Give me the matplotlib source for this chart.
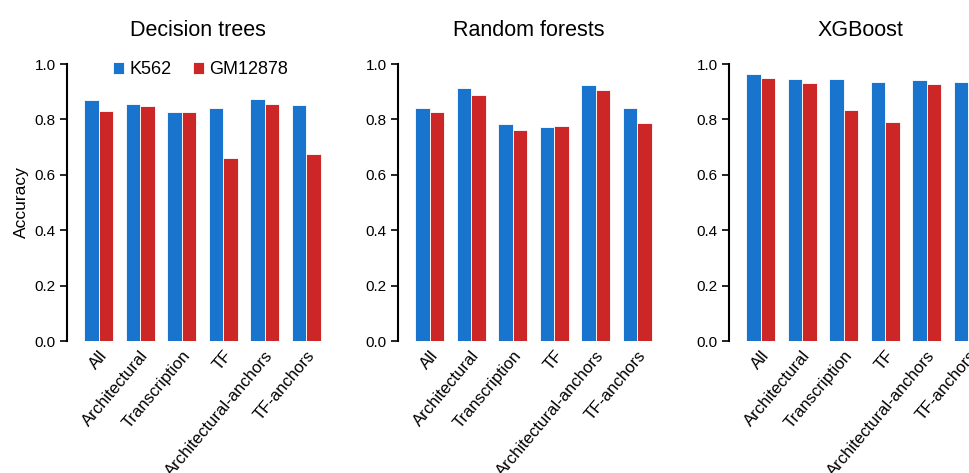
import numpy as np
import matplotlib.pyplot as plt
from matplotlib.transforms import ScaledTranslation

plt.rcParams['font.family'] = ['Liberation Sans', 'DejaVu Sans']

# categorias e valores
categorias = ['All', 'Architectural', 'Transcription', 'TF',
              'Architectural-anchors', 'TF-anchors']
titulos = ['Decision trees', 'Random forests', 'XGBoost']

dt_k562 = [0.871, 0.857, 0.828, 0.842, 0.875, 0.853]
dt_gm = [0.831, 0.849, 0.828, 0.661, 0.857, 0.676]
rf_k562 = [0.842, 0.914, 0.784, 0.773, 0.925, 0.842]
rf_gm = [0.828, 0.889, 0.763, 0.777, 0.907, 0.788]
xgb_k562 = [0.965, 0.947, 0.947, 0.936, 0.943, 0.936]
xgb_gm = [0.951, 0.933, 0.835, 0.792, 0.929, 0.792]

k562 = [dt_k562, rf_k562, xgb_k562]
gm = [dt_gm, rf_gm, xgb_gm]

azul = '#1874CD'
vermelho = '#CD2626'

W, H = 969, 473
fig = plt.figure(figsize=(W / 100, H / 100), dpi=100)

x = np.arange(len(categorias))
larg = 0.35
esq = [67, 398, 729]  # posição do eixo y de cada painel (px)
desloc = ScaledTranslation(-4 / 100, 0, fig.dpi_scale_trans)  # leve ajuste dos rótulos
for i in range(3):
    ax = fig.add_axes([esq[i] / W, (H - 341) / H, 262 / W, 277 / H])
    ax.bar(x - larg / 2, k562[i], larg, color=azul, edgecolor='white',
           linewidth=0.6, label='K562')
    ax.bar(x + larg / 2, gm[i], larg, color=vermelho, edgecolor='white',
           linewidth=0.6, label='GM12878')
    ax.set_xlim(-0.76, 5.55)
    ax.set_ylim(0, 1)
    ax.set_yticks([0, 0.2, 0.4, 0.6, 0.8, 1.0])
    ax.set_yticklabels(['0.0', '0.2', '0.4', '0.6', '0.8', '1.0'])
    ax.set_xticks(x)
    ax.set_xticklabels(categorias, rotation=50, ha='right', va='top',
                       rotation_mode='anchor', fontsize=12)
    for rot in ax.get_xticklabels():
        rot.set_transform(rot.get_transform() + desloc)
    ax.tick_params(axis='x', length=0, pad=5)
    ax.tick_params(axis='y', length=5, width=1.2, labelsize=11, pad=3)
    for s in ['top', 'right', 'bottom']:
        ax.spines[s].set_visible(False)
    ax.spines['left'].set_linewidth(1.5)
    ax.set_title(titulos[i], fontsize=15.5, pad=20)
    if i == 0:
        ax.set_ylabel('Accuracy', fontsize=12.5, labelpad=4)
        ax.legend(loc='center left', bbox_to_anchor=(0.174, 0.98), ncol=2,
                  frameon=False, fontsize=13, handlelength=0.65,
                  handleheight=0.65, handletextpad=0.28, columnspacing=1.17,
                  borderaxespad=0, borderpad=0)

fig.savefig('out.png', dpi=100)
